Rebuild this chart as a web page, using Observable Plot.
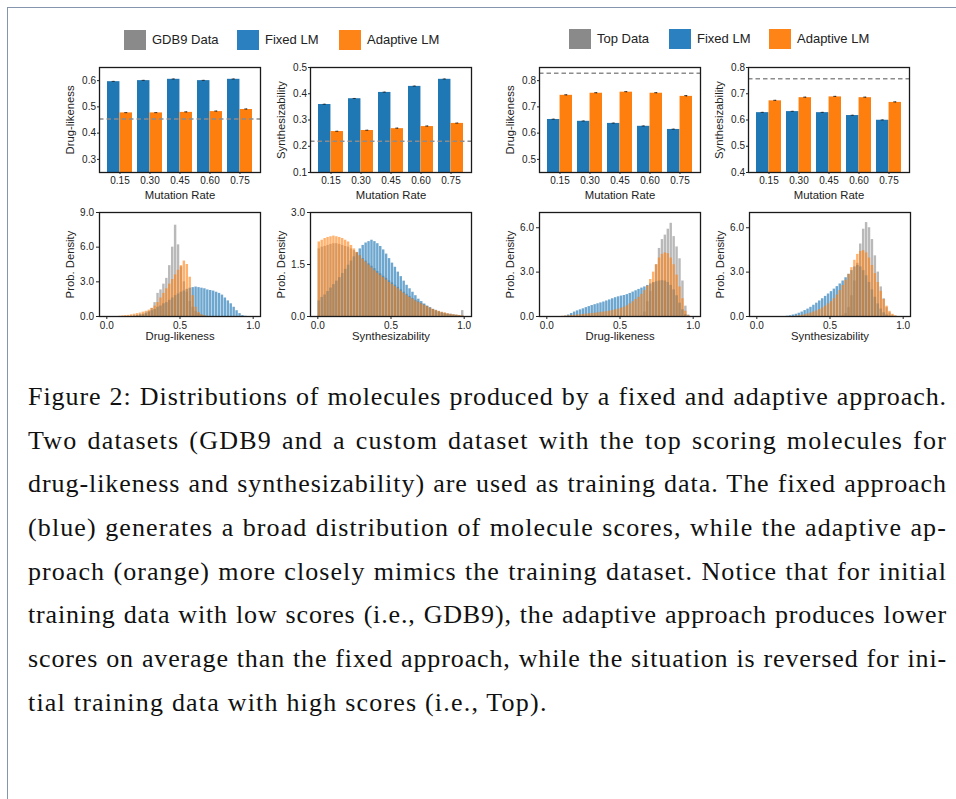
<!DOCTYPE html>
<html><head><meta charset="utf-8">
<script src="https://cdn.jsdelivr.net/npm/d3@7"></script>
<script src="https://cdn.jsdelivr.net/npm/@observablehq/plot@0.6"></script>
<style>
html,body{margin:0;padding:0;background:#fff;width:956px;height:799px;overflow:hidden;}
#page{position:relative;width:956px;height:799px;}
.border{position:absolute;left:7px;top:7px;width:970px;height:820px;border-left:1.5px solid #8595ad;border-top:1.5px solid #8595ad;}
.panel{position:absolute;}
.legend-item{position:absolute;font-family:'Liberation Sans',Arial,sans-serif;font-size:13px;color:#222;display:flex;align-items:center;white-space:nowrap;}
.sw{width:22px;height:20px;margin-right:6px;}
.caption{position:absolute;left:28px;top:375px;width:919px;font-family:'Liberation Serif','Times New Roman',serif;font-size:26px;color:#111;}
.caption div{height:43.7px;line-height:43.7px;text-align:justify;text-align-last:justify;white-space:nowrap;}
.caption div.last{text-align:left;text-align-last:left;}
.caption div.measure{text-align:left;text-align-last:left;}
g[aria-label="x-axis label"], g[aria-label="y-axis label"]{font-size:11.3px;}
</style>
</head><body><div id="page"><div class="border"></div></div>
<script>
// ---------- data ----------
const mutationRates = ["0.15", "0.30", "0.45", "0.60", "0.75"];
const legendGdb = ["GDB9 Data", "Fixed LM", "Adaptive LM"];
const legendTop = ["Top Data", "Fixed LM", "Adaptive LM"];

// bar charts: mean score per mutation rate
const gdbDrugFixed = [0.596, 0.600, 0.605, 0.600, 0.605];
const gdbDrugAdaptive = [0.477, 0.477, 0.479, 0.482, 0.490];
const gdbDrugFixedErr = [0.001, 0.001, 0.001, 0.001, 0.001];
const gdbDrugAdaptiveErr = [0.001, 0.001, 0.002, 0.002, 0.002];
const gdbDrugRef = 0.454;

const gdbSynthFixed = [0.359, 0.381, 0.405, 0.428, 0.455];
const gdbSynthAdaptive = [0.256, 0.260, 0.267, 0.275, 0.287];
const gdbSynthFixedErr = [0.001, 0.001, 0.001, 0.001, 0.001];
const gdbSynthAdaptiveErr = [0.001, 0.001, 0.002, 0.002, 0.001];
const gdbSynthRef = 0.219;

const topDrugFixed = [0.652, 0.645, 0.637, 0.626, 0.614];
const topDrugAdaptive = [0.744, 0.752, 0.756, 0.752, 0.740];
const topDrugFixedErr = [0.001, 0.001, 0.001, 0.001, 0.001];
const topDrugAdaptiveErr = [0.002, 0.002, 0.002, 0.002, 0.003];
const topDrugRef = 0.828;

const topSynthFixed = [0.628, 0.632, 0.628, 0.617, 0.599];
const topSynthAdaptive = [0.673, 0.685, 0.688, 0.685, 0.667];
const topSynthFixedErr = [0.001, 0.001, 0.001, 0.001, 0.001];
const topSynthAdaptiveErr = [0.002, 0.002, 0.002, 0.002, 0.002];
const topSynthRef = 0.757;

// histograms: probability density per 0.02-wide bin, starting at the given score
const binWidth = 0.02;
const histGdbDrugDataStart = 0.22;
const histGdbDrugData = [0.05, 0.1, 0.2, 0.4, 0.7, 1.2, 2.0, 2.3, 2.8, 3.3, 4.4, 6.0, 7.9, 6.2, 4.3, 3.0, 2.1, 1.3, 0.8, 0.45, 0.25, 0.12, 0.05];
const histGdbDrugFixedStart = 0.16;
const histGdbDrugFixed = [0.02, 0.05, 0.1, 0.15, 0.2, 0.3, 0.4, 0.5, 0.6, 0.8, 0.9, 1.1, 1.2, 1.4, 1.6, 1.8, 1.95, 2.1, 2.2, 2.35, 2.45, 2.5, 2.55, 2.5, 2.45, 2.4, 2.3, 2.25, 2.2, 2.1, 2.0, 1.85, 1.6, 1.35, 1.1, 0.8, 0.5, 0.25, 0.08, 0.02];
const histGdbDrugAdaptiveStart = 0.08;
const histGdbDrugAdaptive = [0.02, 0.05, 0.08, 0.1, 0.15, 0.2, 0.25, 0.3, 0.38, 0.45, 0.55, 0.7, 0.9, 1.2, 1.6, 2.0, 2.4, 2.8, 3.2, 3.6, 4.0, 4.4, 4.8, 4.5, 3.4, 1.8, 0.8, 0.35, 0.15, 0.06, 0.02];

const histGdbSynthDataStart = 0.0;
const histGdbSynthData = [1.95, 2.0, 2.02, 2.05, 2.08, 2.1, 2.1, 2.08, 2.05, 2.02, 2.0, 1.95, 1.9, 1.83, 1.75, 1.67, 1.6, 1.52, 1.45, 1.38, 1.3, 1.23, 1.16, 1.1, 1.03, 0.97, 0.9, 0.84, 0.77, 0.7, 0.64, 0.58, 0.52, 0.47, 0.42, 0.37, 0.33, 0.29, 0.25, 0.21, 0.18, 0.15, 0.12, 0.1, 0.08, 0.07, 0.05, 0.04, 0.03, 0.17];
const histGdbSynthFixedStart = 0.0;
const histGdbSynthFixed = [0.45, 0.55, 0.62, 0.72, 0.82, 0.92, 1.02, 1.12, 1.24, 1.36, 1.48, 1.6, 1.72, 1.84, 1.95, 2.05, 2.12, 2.16, 2.2, 2.16, 2.1, 2.02, 1.92, 1.8, 1.67, 1.54, 1.42, 1.28, 1.15, 1.02, 0.9, 0.8, 0.7, 0.6, 0.5, 0.43, 0.36, 0.3, 0.25, 0.2, 0.16, 0.13, 0.1, 0.08, 0.06, 0.05, 0.04, 0.03, 0.02, 0.01];
const histGdbSynthAdaptiveStart = 0.0;
const histGdbSynthAdaptive = [2.15, 2.2, 2.25, 2.28, 2.3, 2.32, 2.3, 2.28, 2.25, 2.2, 2.15, 2.05, 1.95, 1.85, 1.75, 1.65, 1.57, 1.48, 1.4, 1.32, 1.25, 1.18, 1.12, 1.05, 0.98, 0.92, 0.86, 0.8, 0.73, 0.67, 0.6, 0.55, 0.5, 0.45, 0.4, 0.36, 0.32, 0.28, 0.24, 0.2, 0.17, 0.14, 0.12, 0.1, 0.08, 0.06, 0.05, 0.04, 0.03, 0.02];

const histTopDrugDataStart = 0.64;
const histTopDrugData = [0.05, 0.3, 1.0, 1.7, 2.3, 3.5, 4.6, 5.2, 5.5, 5.9, 6.3, 5.4, 4.7, 3.9, 2.4, 0.7, 0.1];
const histTopDrugFixedStart = 0.12;
const histTopDrugFixed = [0.03, 0.1, 0.2, 0.3, 0.38, 0.45, 0.52, 0.6, 0.67, 0.74, 0.8, 0.86, 0.92, 0.98, 1.05, 1.12, 1.2, 1.27, 1.33, 1.38, 1.42, 1.48, 1.56, 1.65, 1.74, 1.83, 1.92, 2.0, 2.1, 2.2, 2.28, 2.35, 2.4, 2.42, 2.4, 2.3, 2.1, 1.8, 1.4, 0.9, 0.45, 0.12, 0.02];
const histTopDrugAdaptiveStart = 0.10;
const histTopDrugAdaptive = [0.02, 0.03, 0.05, 0.07, 0.08, 0.1, 0.12, 0.14, 0.16, 0.18, 0.2, 0.22, 0.25, 0.28, 0.3, 0.33, 0.36, 0.4, 0.45, 0.5, 0.56, 0.62, 0.72, 0.85, 1.0, 1.15, 1.3, 1.5, 1.75, 2.05, 2.5, 3.0, 3.5, 3.95, 4.2, 4.3, 4.25, 3.95, 3.5, 2.8, 2.0, 1.2, 0.35, 0.05];

const histTopSynthDataStart = 0.58;
const histTopSynthData = [0.05, 0.2, 0.6, 1.4, 2.4, 3.6, 4.9, 5.9, 6.35, 6.0, 5.2, 4.1, 3.0, 2.0, 1.2, 0.6, 0.25, 0.08, 0.02];
const histTopSynthFixedStart = 0.20;
const histTopSynthFixed = [0.02, 0.05, 0.1, 0.15, 0.22, 0.3, 0.4, 0.5, 0.62, 0.76, 0.9, 1.05, 1.2, 1.36, 1.52, 1.68, 1.85, 2.02, 2.2, 2.4, 2.62, 2.85, 3.1, 3.35, 3.45, 3.35, 3.1, 2.75, 2.3, 1.8, 1.3, 0.85, 0.5, 0.25, 0.1, 0.03];
const histTopSynthAdaptiveStart = 0.26;
const histTopSynthAdaptive = [0.02, 0.05, 0.08, 0.12, 0.17, 0.23, 0.3, 0.38, 0.47, 0.58, 0.7, 0.85, 1.0, 1.2, 1.45, 1.75, 2.1, 2.45, 2.85, 3.3, 3.8, 4.2, 4.4, 4.45, 4.3, 3.95, 3.45, 2.9, 2.3, 1.7, 1.15, 0.7, 0.35, 0.15, 0.05];

const captionLines = [
  "Figure 2: Distributions of molecules produced by a fixed and adaptive approach.",
  "Two datasets (GDB9 and a custom dataset with the top scoring molecules for",
  "drug-likeness and synthesizability) are used as training data. The fixed approach",
  "(blue) generates a broad distribution of molecule scores, while the adaptive ap-",
  "proach (orange) more closely mimics the training dataset. Notice that for initial",
  "training data with low scores (i.e., GDB9), the adaptive approach produces lower",
  "scores on average than the fixed approach, while the situation is reversed for ini-",
  "tial training data with high scores (i.e., Top)."
];

// ---------- drawing ----------
const COL = {gray: "#7f7f7f", blue: "#1f77b4", orange: "#ff7f0e"};
const legendColors = ["#8a8a8a", "#2b80c0", "#ff8418"];
const page = document.getElementById("page");
const plotStyle = {fontFamily: "'Liberation Sans', Arial, sans-serif", fontSize: "10px", color: "#222", background: "transparent", overflow: "visible"};

function place(node, left, top) {
  const d = document.createElement("div");
  d.className = "panel";
  d.style.left = left + "px";
  d.style.top = top + "px";
  d.appendChild(node);
  page.appendChild(d);
}

function barPanel(cfg) {
  const W = 161, H = 105, mL = 45, mR = 10, mT = 8, mB = 36;
  const n = mutationRates.length, pi = 0.175, po = 0.23;
  const bw = W / (n - pi + 2 * po) * (1 - pi);
  const rows = mutationRates.map((r, i) => ({
    rate: r, fixed: cfg.fixed[i], adaptive: cfg.adaptive[i],
    fixedErr: cfg.fixedErr[i], adaptiveErr: cfg.adaptiveErr[i]
  }));
  const cap = 1.6;
  const svg = Plot.plot({
    width: W + mL + mR, height: H + mT + mB,
    marginLeft: mL, marginRight: mR, marginTop: mT, marginBottom: mB,
    style: plotStyle,
    x: {type: "band", domain: mutationRates, paddingInner: pi, paddingOuter: po,
        label: "Mutation Rate", labelAnchor: "center", labelArrow: false, labelOffset: 26, tickSize: 2, tickPadding: 2},
    y: {domain: cfg.yDomain, ticks: cfg.yTicks, tickFormat: ".1f", label: cfg.yLabel,
        labelAnchor: "center", labelArrow: false, labelOffset: 33.5, tickSize: 2, tickPadding: 1.5},
    marks: [
      Plot.barY(rows, {x: "rate", y: "fixed", fill: COL.blue, insetRight: bw / 2, clip: true}),
      Plot.barY(rows, {x: "rate", y: "adaptive", fill: COL.orange, insetLeft: bw / 2, clip: true}),
      Plot.ruleX(rows, {x: "rate", y1: d => d.fixed - d.fixedErr, y2: d => d.fixed + d.fixedErr, dx: -bw / 4, stroke: "#222", strokeWidth: 0.8}),
      Plot.ruleX(rows, {x: "rate", y1: d => d.adaptive - d.adaptiveErr, y2: d => d.adaptive + d.adaptiveErr, dx: bw / 4, stroke: "#222", strokeWidth: 0.8}),
      Plot.tickY(rows, {x: "rate", y: d => d.fixed + d.fixedErr, stroke: "#222", strokeWidth: 0.8, insetLeft: bw / 4 - cap, insetRight: 3 * bw / 4 - cap}),
      Plot.tickY(rows, {x: "rate", y: d => d.adaptive + d.adaptiveErr, stroke: "#222", strokeWidth: 0.8, insetLeft: 3 * bw / 4 - cap, insetRight: bw / 4 - cap}),
      Plot.ruleY([cfg.ref], {stroke: "#8c8c8c", strokeWidth: 1.6, strokeDasharray: "4.5,3"}),
      Plot.frame({stroke: "#1a1a1a", strokeWidth: 1.3})
    ]
  });
  place(svg, cfg.left - mL, cfg.top - mT);
}

function histRows(start, values) {
  return values.map((v, i) => ({
    x1: Math.round((start + i * binWidth) * 1000) / 1000,
    x2: Math.round((start + (i + 1) * binWidth) * 1000) / 1000,
    density: v
  }));
}

function histPanel(cfg) {
  const W = 161, H = 104, mL = 45, mR = 10, mT = 8, mB = 36;
  const series = [
    [histRows(cfg.dataStart, cfg.data), COL.gray, 0.55],
    [histRows(cfg.fixedStart, cfg.fixed), COL.blue, 0.65],
    [histRows(cfg.adaptiveStart, cfg.adaptive), COL.orange, 0.6]
  ];
  const svg = Plot.plot({
    width: W + mL + mR, height: H + mT + mB,
    marginLeft: mL, marginRight: mR, marginTop: mT, marginBottom: mB,
    style: plotStyle,
    x: {domain: [-0.05, 1.05], ticks: [0, 0.5, 1], tickFormat: ".1f", label: cfg.xLabel,
        labelAnchor: "center", labelArrow: false, labelOffset: 23.5, tickSize: 3, tickPadding: 2},
    y: {domain: cfg.yDomain, ticks: cfg.yTicks, tickFormat: ".1f", label: "Prob. Density",
        labelAnchor: "center", labelArrow: false, labelOffset: 33.5, tickSize: 3, tickPadding: 2.5},
    marks: [
      ...series.map(([rows, fill, op]) => Plot.rectY(rows, {x1: "x1", x2: "x2", y: "density", fill, fillOpacity: op, insetLeft: 0.25, insetRight: 0.25})),
      Plot.frame({stroke: "#1a1a1a", strokeWidth: 1.3})
    ]
  });
  place(svg, cfg.left - mL, cfg.top - mT);
}

function legend(labels, lefts, top) {
  labels.forEach((lab, i) => {
    const item = document.createElement("div");
    item.className = "legend-item";
    item.style.left = lefts[i] + "px";
    item.style.top = top + "px";
    const sw = document.createElement("div");
    sw.className = "sw";
    sw.style.background = legendColors[i];
    item.appendChild(sw);
    const t = document.createElement("span");
    t.textContent = lab;
    item.appendChild(t);
    page.appendChild(item);
  });
}

legend(legendGdb, [124, 237, 339], 29.5);
legend(legendTop, [569, 669, 769], 28.8);

barPanel({left: 99, top: 67, fixed: gdbDrugFixed, adaptive: gdbDrugAdaptive, fixedErr: gdbDrugFixedErr, adaptiveErr: gdbDrugAdaptiveErr,
  ref: gdbDrugRef, yDomain: [0.25, 0.65], yTicks: [0.3, 0.4, 0.5, 0.6], yLabel: "Drug-likeness"});
barPanel({left: 310, top: 67, fixed: gdbSynthFixed, adaptive: gdbSynthAdaptive, fixedErr: gdbSynthFixedErr, adaptiveErr: gdbSynthAdaptiveErr,
  ref: gdbSynthRef, yDomain: [0.1, 0.5], yTicks: [0.1, 0.2, 0.3, 0.4, 0.5], yLabel: "Synthesizability"});
barPanel({left: 539, top: 67, fixed: topDrugFixed, adaptive: topDrugAdaptive, fixedErr: topDrugFixedErr, adaptiveErr: topDrugAdaptiveErr,
  ref: topDrugRef, yDomain: [0.45, 0.85], yTicks: [0.5, 0.6, 0.7, 0.8], yLabel: "Drug-likeness"});
barPanel({left: 748, top: 67, fixed: topSynthFixed, adaptive: topSynthAdaptive, fixedErr: topSynthFixedErr, adaptiveErr: topSynthAdaptiveErr,
  ref: topSynthRef, yDomain: [0.4, 0.8], yTicks: [0.4, 0.5, 0.6, 0.7, 0.8], yLabel: "Synthesizability"});

histPanel({left: 99, top: 212, xLabel: "Drug-likeness", yDomain: [0, 9], yTicks: [0, 3, 6, 9],
  dataStart: histGdbDrugDataStart, data: histGdbDrugData, fixedStart: histGdbDrugFixedStart, fixed: histGdbDrugFixed,
  adaptiveStart: histGdbDrugAdaptiveStart, adaptive: histGdbDrugAdaptive});
histPanel({left: 310, top: 212, xLabel: "Synthesizability", yDomain: [0, 3], yTicks: [0, 1.5, 3],
  dataStart: histGdbSynthDataStart, data: histGdbSynthData, fixedStart: histGdbSynthFixedStart, fixed: histGdbSynthFixed,
  adaptiveStart: histGdbSynthAdaptiveStart, adaptive: histGdbSynthAdaptive});
histPanel({left: 539, top: 212, xLabel: "Drug-likeness", yDomain: [0, 7.03], yTicks: [0, 3, 6],
  dataStart: histTopDrugDataStart, data: histTopDrugData, fixedStart: histTopDrugFixedStart, fixed: histTopDrugFixed,
  adaptiveStart: histTopDrugAdaptiveStart, adaptive: histTopDrugAdaptive});
histPanel({left: 749, top: 212, xLabel: "Synthesizability", yDomain: [0, 7.03], yTicks: [0, 3, 6],
  dataStart: histTopSynthDataStart, data: histTopSynthData, fixedStart: histTopSynthFixedStart, fixed: histTopSynthFixed,
  adaptiveStart: histTopSynthAdaptiveStart, adaptive: histTopSynthAdaptive});

// caption: justified lines; letter-spacing fitted per line so no line overflows
const capBox = document.createElement("div");
capBox.className = "caption";
page.appendChild(capBox);
const boxW = 919, preferredSpacing = 1.2;
captionLines.forEach((line, i) => {
  const d = document.createElement("div");
  const isLast = i === captionLines.length - 1;
  d.className = "measure";
  const probe = document.createElement("span");
  probe.textContent = line;
  d.appendChild(probe);
  capBox.appendChild(d);
  const w0 = probe.getBoundingClientRect().width;
  let ls = preferredSpacing;
  if (!isLast) ls = Math.min(preferredSpacing, (boxW - 8 - w0) / line.length);
  d.className = isLast ? "last" : "";
  d.textContent = line;
  d.style.letterSpacing = ls + "px";
});
</script>
</body></html>
